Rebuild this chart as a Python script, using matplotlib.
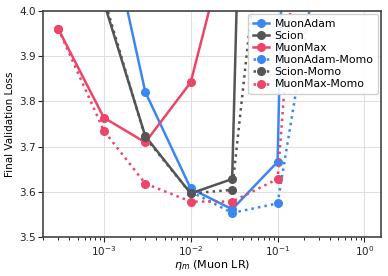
import numpy as np
import matplotlib
matplotlib.use("Agg")
from matplotlib import pyplot as plt

# learning rates and final validation loss per method
muonadam_lr = [1e-3, 3e-3, 1e-2, 3e-2, 1e-1, 3e-1]
muonadam = [4.24, 3.821, 3.607, 3.561, 3.666, 7.7]

scion_lr = [1e-3, 3e-3, 1e-2, 3e-2, 1e-1]
scion = [4.02, 3.723, 3.596, 3.628, 7.5]

muonmax_lr = [3e-4, 1e-3, 3e-3, 1e-2, 3e-2]
muonmax = [3.960, 3.764, 3.709, 3.842, 4.2]

muonadam_momo_lr = [1e-2, 3e-2, 1e-1, 3e-1]
muonadam_momo = [3.600, 3.553, 3.574, 4.13]

scion_momo_lr = [1e-3, 3e-3, 1e-2, 3e-2, 1e-1]
scion_momo = [4.03, 3.72, 3.596, 3.604, 4.54]

muonmax_momo_lr = [3e-4, 1e-3, 3e-3, 1e-2, 3e-2, 1e-1, 3e-1]
muonmax_momo = [3.960, 3.735, 3.618, 3.578, 3.578, 3.628, 4.84]

blue = "#3b87f2"
gray = "#555555"
red = "#ec4567"

fig = plt.figure(figsize=(3.88, 2.76), dpi=100)
ax = fig.add_axes([0.111, 0.142, 0.871, 0.818])

ax.plot(muonadam_lr, muonadam, color=blue, lw=1.8, marker="o", ms=5.5, label="MuonAdam")
ax.plot(scion_lr, scion, color=gray, lw=1.8, marker="o", ms=5.5, label="Scion")
ax.plot(muonmax_lr, muonmax, color=red, lw=1.8, marker="o", ms=5.5, label="MuonMax")
ax.plot(muonadam_momo_lr, muonadam_momo, color=blue, lw=1.8, ls=":", marker="o", ms=5.5, label="MuonAdam-Momo")
ax.plot(scion_momo_lr, scion_momo, color=gray, lw=1.8, ls=":", marker="o", ms=5.5, label="Scion-Momo")
ax.plot(muonmax_momo_lr, muonmax_momo, color=red, lw=1.8, ls=":", marker="o", ms=5.5, label="MuonMax-Momo")

ax.set_xscale("log")
ax.set_xlim(2e-4, 1.55)
ax.set_ylim(3.5, 4.0)
ax.set_yticks([3.5, 3.6, 3.7, 3.8, 3.9, 4.0])
ax.grid(True, which="major", color="#e0e0e0", lw=0.8)
ax.set_axisbelow(True)
for s in ax.spines.values():
    s.set_color("#444444")
    s.set_linewidth(1.2)
ax.tick_params(labelsize=7.5, colors="#222222", pad=1.5)

ax.set_xlabel(r"$\eta_m$ (Muon LR)", fontsize=8, labelpad=0)
ax.set_ylabel("Final Validation Loss", fontsize=7.5, labelpad=3)

ax.legend(loc="upper right", fontsize=7.8, handlelength=1.5, handletextpad=0.5,
          borderaxespad=0.3, labelspacing=0.2, framealpha=0.9, edgecolor="#cccccc")

plt.savefig("out.png", dpi=100)
